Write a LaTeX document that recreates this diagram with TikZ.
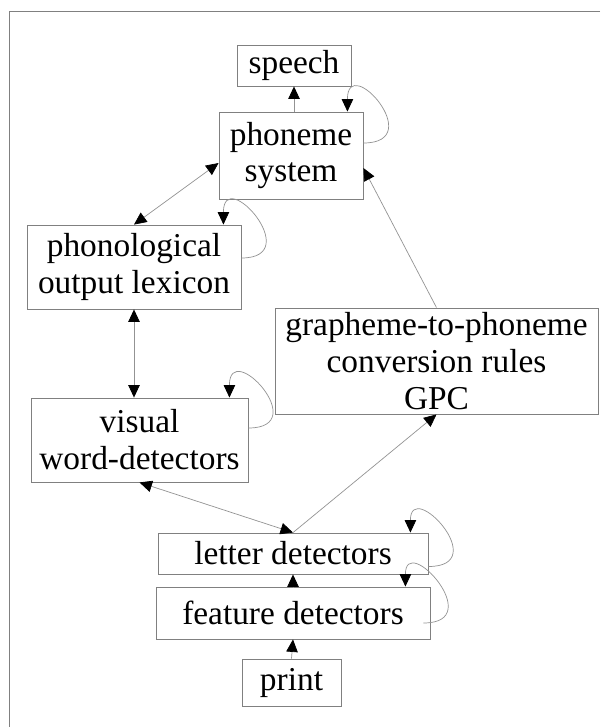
\documentclass[tikz,border=0pt]{standalone}
\usepackage{fontspec}
\setmainfont{Liberation Serif}
\usetikzlibrary{arrows.meta}

\begin{document}
\begin{tikzpicture}[x=0.02cm, y=-0.02cm,
    box/.style={draw=gray, line width=0.5pt, inner sep=0pt, align=center,
        font=\fontsize{19}{21}\selectfont},
    link/.style={draw=gray!85, line width=0.4pt},
    arrowto/.style={-{Triangle[length=2.5mm,width=2.3mm,color=black]}},
    arrowboth/.style={{Triangle[length=2.5mm,width=2.3mm,color=black]}-{Triangle[length=2.5mm,width=2.3mm,color=black]}}]
    \useasboundingbox (0,0) rectangle (600,727);
    \draw[draw=gray, line width=0.5pt] (600,11) -- (9,11) -- (9,727);

    % boxes
    \node[box, minimum width=2.28cm, minimum height=0.82cm] (sp) at (294,65.5) {speech};
    \node[box, minimum width=2.88cm, minimum height=1.74cm] (ph) at (291,155.5) {phoneme\\system};
    \node[box, minimum width=4.28cm, minimum height=1.68cm] (pol) at (134,267) {phonological\\output lexicon};
    \node[box, minimum width=6.46cm, minimum height=2.12cm] (gpc) at (436.5,361) {grapheme-to-phoneme\\conversion rules\\GPC};
    \node[box, minimum width=4.34cm, minimum height=1.68cm] (vis) at (139.5,440) {visual\\word-detectors};
    \node[box, minimum width=5.4cm, minimum height=0.82cm] (let) at (293,553.5) {letter detectors};
    \node[box, minimum width=5.48cm, minimum height=1.04cm] (fea) at (293,613) {feature detectors};
    \node[box, minimum width=1.98cm, minimum height=0.94cm] (pr) at (291.5,682.5) {print};

    % connections
    \draw[link, arrowto] (sp.south |- ph.north) -- (sp.south);
    \draw[link, arrowboth] (pol.north) -- ([shift={(0,7.5)}]ph.west);
    \draw[link, arrowboth] (pol.south) -- (pol.south |- vis.north);
    \draw[link, arrowboth] (vis.south) -- (let.north);
    \draw[link, arrowto] (let.north) -- (gpc.south);
    \draw[link, arrowto] (gpc.north) -- ([shift={(0,12.5)}]ph.east);
    \draw[link, arrowto] (fea.north) -- (let.south);
    \draw[link, arrowto] (pr.north) -- (fea.south);

    % self loops
    \draw[link, arrowto] ([shift={(0,-12.5)}]ph.east) .. controls +(65,0) and +(0,-60) .. ([shift={(-16,0)}]ph.north east);
    \draw[link, arrowto] ([shift={(0,-9)}]pol.east) .. controls +(65,0) and +(0,-60) .. ([shift={(-18,0)}]pol.north east);
    \draw[link, arrowto] ([shift={(0,-12)}]vis.east) .. controls +(65,0) and +(0,-60) .. ([shift={(-19,0)}]vis.north east);
    \draw[link, arrowto] ([shift={(0,13)}]let.east) .. controls +(65,0) and +(0,-55) .. ([shift={(-18,0)}]let.north east);
    \draw[link, arrowto] ([shift={(-7,10)}]fea.east) .. controls +(65,0) and +(0,-55) .. ([shift={(-25,0)}]fea.north east);
\end{tikzpicture}
\end{document}
